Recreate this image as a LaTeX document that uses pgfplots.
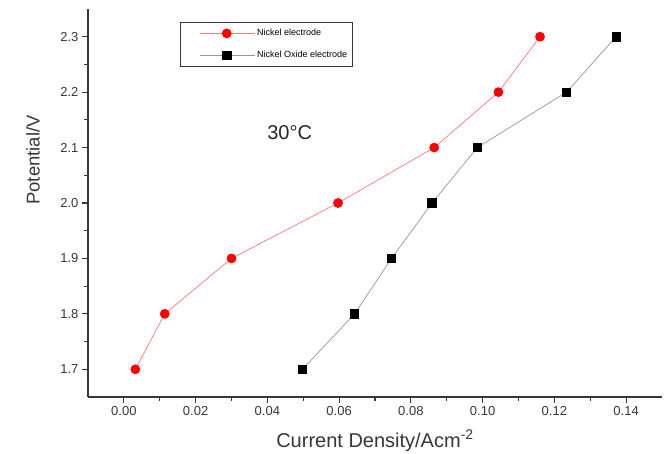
\documentclass[border=0pt]{standalone}
\usepackage{fontspec}
\setmainfont{Liberation Sans}
\usepackage{pgfplots}
\pgfplotsset{compat=1.18}
\definecolor{nired}{RGB}{255,0,0}
\definecolor{nipink}{RGB}{250,120,120}
\definecolor{nigray}{RGB}{150,150,150}
\definecolor{axgray}{RGB}{55,55,55}

\begin{document}
\begin{tikzpicture}
\begin{axis}[
	scale only axis,
	width=574pt, height=388pt,
	xmin=-0.01, xmax=0.15,
	ymin=1.65, ymax=2.35,
	axis x line*=bottom, axis y line*=left,
	axis line style={axgray, line width=1.2pt},
	xtick={0,0.02,0.04,0.06,0.08,0.10,0.12,0.14},
	ytick={1.7,1.8,1.9,2.0,2.1,2.2,2.3},
	minor x tick num=1, minor y tick num=1,
	tick align=outside,
	major tick length=6pt, minor tick length=4pt,
	every tick/.style={axgray, line width=1.2pt},
	/pgf/number format/assume math mode=true,
	ticklabel style={font=\fontsize{13}{15}\selectfont, text=axgray},
	x tick label style={/pgf/number format/.cd, fixed, fixed zerofill, precision=2},
	y tick label style={/pgf/number format/.cd, fixed, fixed zerofill, precision=1},
	xlabel={Current Density/Acm\textsuperscript{-2}},
	ylabel={Potential/V},
	xlabel style={font=\fontsize{20}{22}\selectfont, text=axgray, at={(axis description cs:0.5,-0.113)}, anchor=center},
	ylabel style={font=\fontsize{18.5}{20}\selectfont, text=axgray, at={(axis description cs:-0.096,0.611)}, anchor=center},
	legend style={at={(0.1603,0.9665)}, anchor=north west, draw=axgray, line width=0.8pt,
		font=\fontsize{9}{10}\selectfont, row sep=10pt, inner ysep=5pt},
	legend cell align=left,
	legend image code/.code={\path (-16pt,0); \draw[#1, mark repeat=2, mark phase=2] plot coordinates {(0pt,0pt) (27pt,0pt) (55pt,0pt)};},
	clip=false,
]
\addplot[color=nipink, line width=0.7pt, mark=*, mark size=4.5pt, mark options={fill=nired, draw=nired}] coordinates {
	(0.0032,1.7) (0.0114,1.8) (0.0300,1.9) (0.0597,2.0) (0.0865,2.1) (0.1044,2.2) (0.1160,2.3)
};
\addlegendentry{Nickel electrode}
\addplot[color=nigray, line width=0.7pt, mark=square*, mark size=4.2pt, mark options={fill=black, draw=black}] coordinates {
	(0.0498,1.7) (0.0643,1.8) (0.0746,1.9) (0.0859,2.0) (0.0985,2.1) (0.1234,2.2) (0.1372,2.3)
};
\addlegendentry{Nickel Oxide electrode\hspace{20pt}}
\node[font=\fontsize{20}{22}\selectfont, text=black!85] at (axis cs:0.0462,2.127) {30°C};
\end{axis}
\pgfresetboundingbox
\path[use as bounding box] (-88pt,-57pt) rectangle (578pt,397pt);
\end{tikzpicture}
\end{document}
